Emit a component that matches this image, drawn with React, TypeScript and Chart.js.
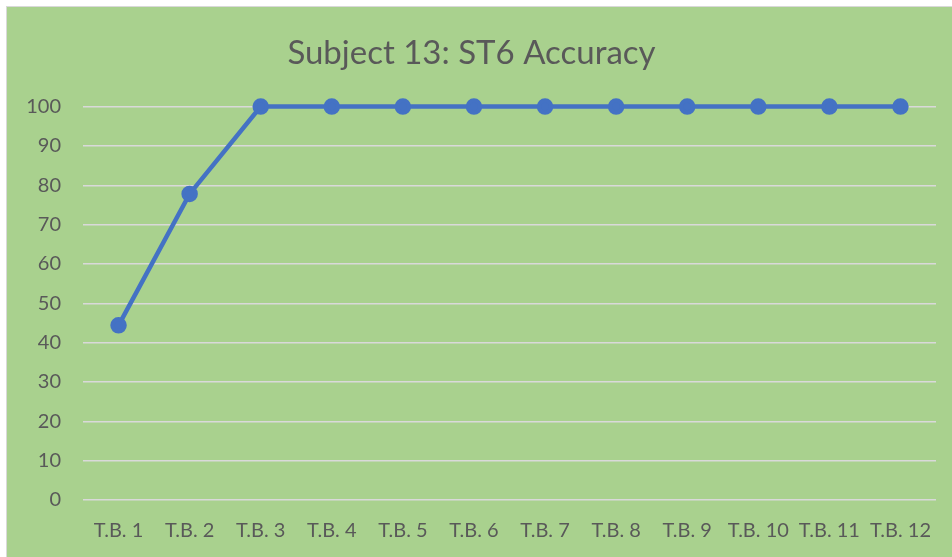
import React, { useEffect, useRef } from "react";
import { Chart, registerables } from "chart.js";

Chart.register(...registerables);

const categories = ["T.B. 1", "T.B. 2", "T.B. 3", "T.B. 4", "T.B. 5", "T.B. 6", "T.B. 7", "T.B. 8", "T.B. 9", "T.B. 10", "T.B. 11", "T.B. 12"];
const accuracy = [44.4, 77.8, 100, 100, 100, 100, 100, 100, 100, 100, 100, 100];
const titleText = "Subject 13: ST6 Accuracy";

export default function App() {
  const ref = useRef<HTMLCanvasElement | null>(null);
  useEffect(() => {
    if (!ref.current) return;
    const font = "Lato, 'Open Sans', sans-serif";
    const chart = new Chart(ref.current, {
      type: "line",
      data: {
        labels: categories,
        datasets: [
          {
            data: accuracy,
            borderColor: "#4472c4",
            backgroundColor: "#4472c4",
            borderWidth: 4.5,
            pointRadius: 6,
            pointBackgroundColor: "#4472c4",
            pointBorderColor: "#4472c4",
            tension: 0,
            clip: false as any,
          },
        ],
      },
      options: {
        animation: false,
        responsive: false,
        maintainAspectRatio: false,
        layout: { padding: { left: 0, right: 16, top: 0, bottom: 0 } },
        plugins: {
          legend: { display: false },
          tooltip: { enabled: false },
          title: {
            display: true,
            text: titleText,
            color: "#595959",
            font: { family: font, size: 33, weight: "normal" },
            padding: { top: 27, bottom: 33 },
          },
        },
        scales: {
          x: {
            offset: true,
            grid: { display: false, drawTicks: false },
            border: { display: false },
            ticks: { color: "#595959", font: { family: font, size: 20 }, padding: 19, maxRotation: 0, autoSkip: false },
            afterFit: (s: any) => { s.height = 57; },
          },
          y: {
            min: 0,
            max: 100,
            ticks: { stepSize: 10, color: "#595959", font: { family: font, size: 20 }, padding: 22 },
            grid: { color: "#d9d9d9", lineWidth: 1.5, drawTicks: false },
            border: { display: false },
            afterFit: (s: any) => { s.width = 76; },
          },
        },
      },
    });
    return () => chart.destroy();
  }, []);
  return (
    <div style={{ position: "fixed", left: 0, top: 0, width: 952, height: 557, background: "#ffffff" }}>
      <div style={{ position: "absolute", left: 6, top: 6, width: 946, height: 551, boxSizing: "border-box", borderLeft: "1px solid #d9d9d9", borderTop: "1px solid #d9d9d9", background: "#a9d18e" }}>
        <canvas ref={ref} width={945} height={550} style={{ display: "block" }} />
      </div>
    </div>
  );
}
